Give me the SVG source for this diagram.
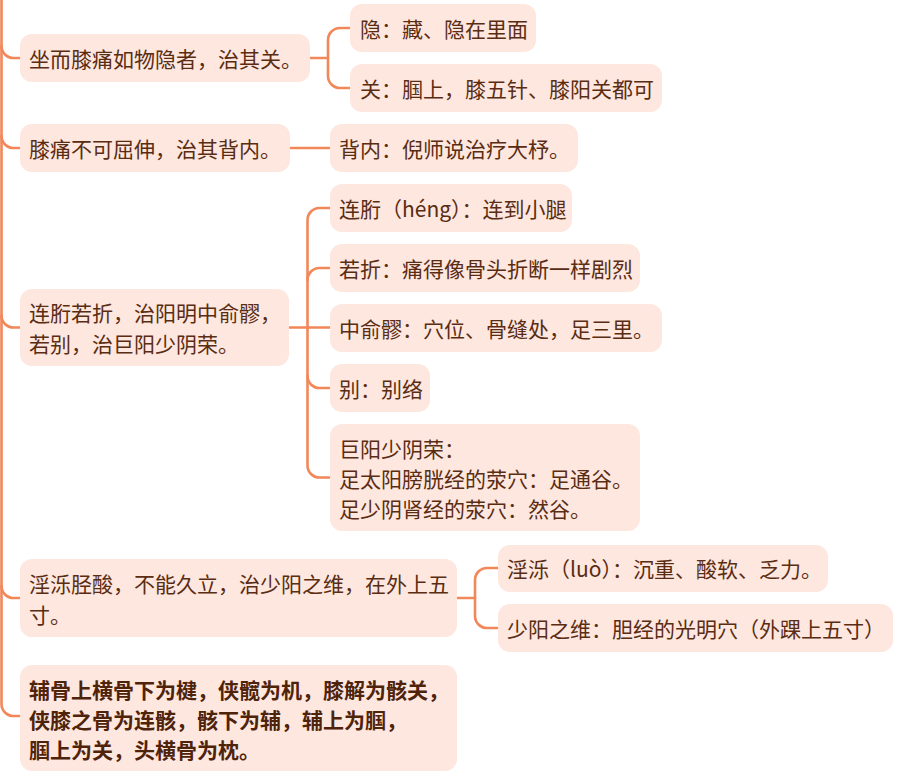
<svg xmlns="http://www.w3.org/2000/svg" width="905" height="777" viewBox="0 0 905 777">
<style>
.box{fill:#fde7df;}
.t{font-family:"Noto Sans CJK SC","Noto Sans",sans-serif;font-size:21px;fill:#5a2c12;dominant-baseline:central;}
.b{font-weight:bold;fill:#4e230a;}
.c{fill:none;stroke:#f2875a;stroke-width:2.6;stroke-linecap:round;stroke-linejoin:round;}
</style>
<rect width="905" height="777" fill="#ffffff"/>
<g id="connectors">
<path class="c" d="M1.5,0 V704 A12,12 0 0 0 13.5,716 H20"/>
<path class="c" d="M1.5,46 A12,12 0 0 0 13.5,58 H20"/>
<path class="c" d="M1.5,136 A12,12 0 0 0 13.5,148 H20"/>
<path class="c" d="M1.5,315.5 A12,12 0 0 0 13.5,327.5 H20"/>
<path class="c" d="M1.5,586 A12,12 0 0 0 13.5,598 H20"/>
<path class="c" d="M310,58 H328"/>
<path class="c" d="M350,28 H340 A12,12 0 0 0 328,40 V76 A12,12 0 0 0 340,88 H350"/>
<path class="c" d="M290,148 H330"/>
<path class="c" d="M289,327.5 H330"/>
<path class="c" d="M330,208 H319.5 A12,12 0 0 0 307.5,220 V465.5 A12,12 0 0 0 319.5,477.5 H330"/>
<path class="c" d="M330,268 H319.5 A12,12 0 0 0 307.5,280"/>
<path class="c" d="M307.5,376 A12,12 0 0 0 319.5,388 H330"/>
<path class="c" d="M457,598 H475"/>
<path class="c" d="M498,568 H487 A12,12 0 0 0 475,580 V616 A12,12 0 0 0 487,628 H498"/>
</g>
<g id="n1"><rect class="box" x="20" y="34" width="290" height="48" rx="12"/><text class="t" x="29" y="58">坐而膝痛如物隐者，治其关。</text></g>
<g id="n1a"><rect class="box" x="350" y="4" width="186" height="48" rx="12"/><text class="t" x="360" y="28">隐：藏、隐在里面</text></g>
<g id="n1b"><rect class="box" x="350" y="64" width="312" height="48" rx="12"/><text class="t" x="360" y="88">关：腘上，膝五针、膝阳关都可</text></g>
<g id="n2"><rect class="box" x="20" y="124" width="270" height="48" rx="12"/><text class="t" x="29" y="148">膝痛不可屈伸，治其背内。</text></g>
<g id="n2a"><rect class="box" x="330" y="124" width="248" height="48" rx="12"/><text class="t" x="339" y="148">背内：倪师说治疗大杼。</text></g>
<g id="n3"><rect class="box" x="20" y="289" width="269" height="77" rx="12"/><text class="t" x="29" y="312">连胻若折，治阳明中俞髎，</text><text class="t" x="29" y="343">若别，治巨阳少阴荣。</text></g>
<g id="n3a"><rect class="box" x="330" y="184" width="242" height="48" rx="12"/><text class="t" x="339" y="208">连胻（héng）：连到小腿</text></g>
<g id="n3b"><rect class="box" x="330" y="244" width="310" height="48" rx="12"/><text class="t" x="339" y="268">若折：痛得像骨头折断一样剧烈</text></g>
<g id="n3c"><rect class="box" x="330" y="304" width="332" height="48" rx="12"/><text class="t" x="339" y="328">中俞髎：穴位、骨缝处，足三里。</text></g>
<g id="n3d"><rect class="box" x="330" y="364" width="100" height="48" rx="12"/><text class="t" x="339" y="388">别：别络</text></g>
<g id="n3e"><rect class="box" x="330" y="424" width="310" height="107" rx="12"/><text class="t" x="339" y="448">巨阳少阴荣：</text><text class="t" x="339" y="478">足太阳膀胱经的荥穴：足通谷。</text><text class="t" x="339" y="508">足少阴肾经的荥穴：然谷。</text></g>
<g id="n4"><rect class="box" x="20" y="559" width="437" height="78" rx="12"/><text class="t" x="29" y="583">淫泺胫酸，不能久立，治少阳之维，在外上五</text><text class="t" x="29" y="614">寸。</text></g>
<g id="n4a"><rect class="box" x="498" y="545" width="330" height="47" rx="12"/><text class="t" x="507" y="568">淫泺（luò）：沉重、酸软、乏力。</text></g>
<g id="n4b"><rect class="box" x="498" y="604" width="395" height="48" rx="12"/><text class="t" x="507" y="628">少阳之维：胆经的光明穴（外踝上五寸）</text></g>
<g id="n5"><rect class="box" x="20" y="665" width="437" height="106" rx="12"/><text class="t b" x="29" y="689">辅骨上横骨下为楗，侠髋为机，膝解为骸关，</text><text class="t b" x="29" y="719">侠膝之骨为连骸，骸下为辅，辅上为腘，</text><text class="t b" x="29" y="749">腘上为关，头横骨为枕。</text></g>
</svg>
